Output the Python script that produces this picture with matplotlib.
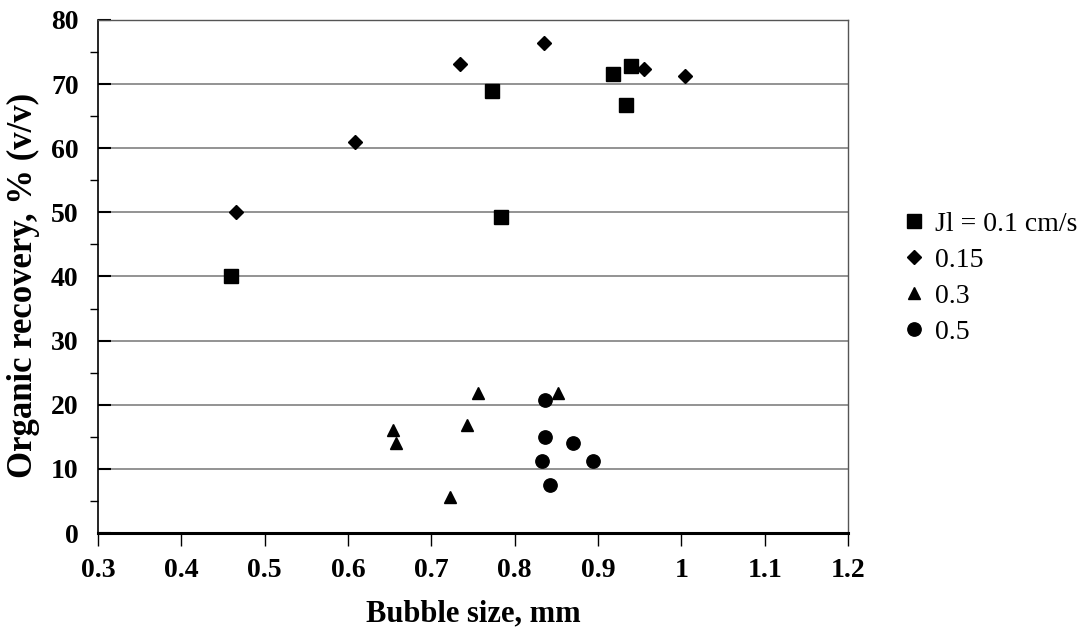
import matplotlib
matplotlib.use("Agg")
import matplotlib.pyplot as plt
from matplotlib.ticker import MultipleLocator

plt.rcParams['font.family'] = ['Liberation Serif', 'DejaVu Serif']

# bubble size (mm) / organic recovery (% v/v) for each liquid flux
x_01 = [0.460, 0.773, 0.784, 0.918, 0.940, 0.934]
y_01 = [40.0, 69.0, 49.3, 71.6, 72.9, 66.7]

x_015 = [0.465, 0.608, 0.734, 0.835, 0.955, 1.005]
y_015 = [50.0, 60.9, 73.2, 76.4, 72.3, 71.2]

x_03 = [0.654, 0.658, 0.722, 0.743, 0.756, 0.852]
y_03 = [16.0, 14.0, 5.6, 16.9, 21.8, 21.8]

x_05 = [0.836, 0.836, 0.870, 0.833, 0.894, 0.843]
y_05 = [20.7, 15.0, 14.0, 11.3, 11.3, 7.5]

labels = ['Jl = 0.1 cm/s', '0.15', '0.3', '0.5']

fig = plt.figure(figsize=(10.82, 6.34), dpi=100)
ax = fig.add_axes([0.0906, 0.1593, 0.6931, 0.8092])

ax.plot(x_01, y_01, 's', color='black', ms=9.4, label=labels[0], zorder=3)
ax.plot(x_015, y_015, 'D', color='black', ms=6.8, label=labels[1], zorder=3)
ax.plot(x_03, y_03, '^', color='black', ms=9.0, label=labels[2], zorder=3)
ax.plot(x_05, y_05, 'o', color='black', ms=9.6, label=labels[3], zorder=3)

ax.set_xlim(0.3, 1.2)
ax.set_ylim(0, 80)
ax.yaxis.set_major_locator(MultipleLocator(10))
ax.yaxis.set_minor_locator(MultipleLocator(5))
ax.set_xticks([0.3, 0.4, 0.5, 0.6, 0.7, 0.8, 0.9, 1.0, 1.1, 1.2])
ax.set_xticklabels(['0.3', '0.4', '0.5', '0.6', '0.7', '0.8', '0.9', '1', '1.1', '1.2'])

ax.grid(axis='y', which='major', color='#808080', lw=1.2)
ax.set_axisbelow(True)

ax.tick_params(axis='x', direction='out', length=9, width=1, labelsize=20, pad=9)
ax.tick_params(axis='y', which='major', direction='in', length=9, width=1.5, labelsize=20, pad=14)
ax.tick_params(axis='y', which='minor', direction='out', length=6, width=1)
for lab in ax.get_xticklabels() + ax.get_yticklabels():
    lab.set_fontweight('bold')

for side in ['top', 'right']:
    ax.spines[side].set_color('#555555')
    ax.spines[side].set_linewidth(1.0)
ax.spines['left'].set_linewidth(1.2)
ax.spines['bottom'].set_linewidth(2.2)

ax.set_xlabel('Bubble size, mm', fontsize=22, fontweight='bold', labelpad=12)
ax.set_ylabel('Organic recovery, % (v/v)', fontsize=25, fontweight='bold')
ax.yaxis.set_label_coords(-0.077, 0.482)

fig.legend(loc='upper left', bbox_to_anchor=(0.827, 0.684), frameon=False,
           fontsize=20, handlelength=0.6, handletextpad=0.45, labelspacing=0.38,
           borderaxespad=0)

fig.savefig('out.png', dpi=100)
